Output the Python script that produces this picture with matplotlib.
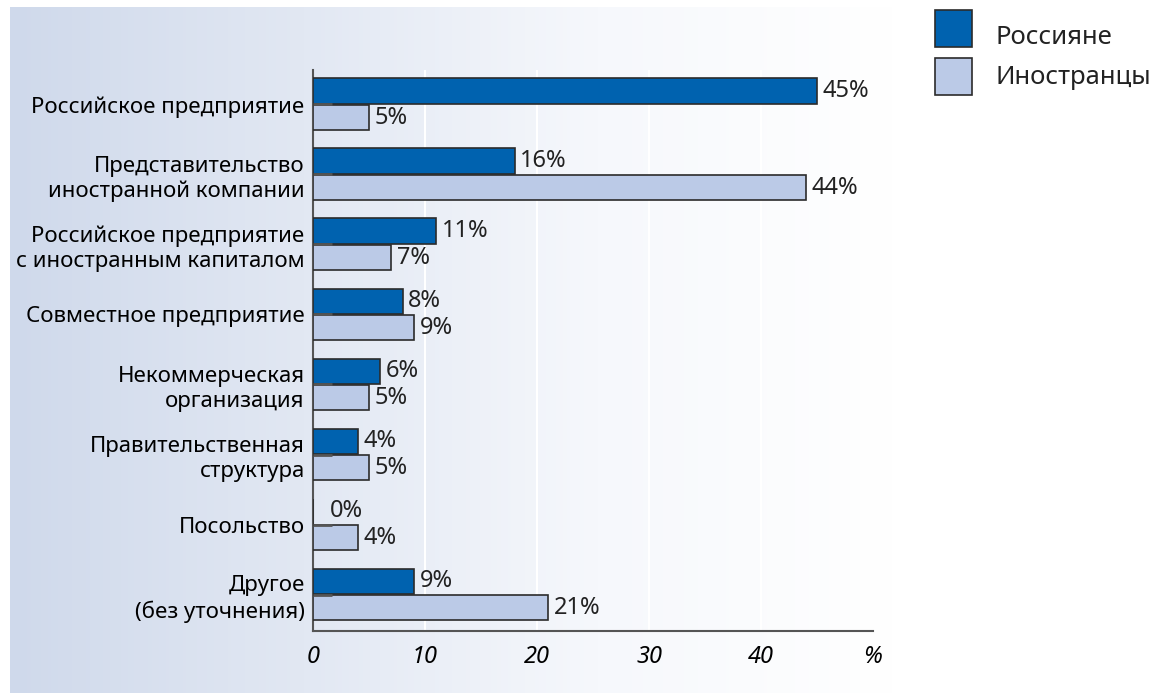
import numpy as np
import matplotlib
matplotlib.use("Agg")
import matplotlib.pyplot as plt
from matplotlib.patches import Rectangle
from matplotlib.colors import LinearSegmentedColormap

plt.rcParams["font.family"] = ["Noto Sans", "DejaVu Sans"]

# Data
categories = [
    "Российское предприятие",
    "Представительство\nиностранной компании",
    "Российское предприятие\nс иностранным капиталом",
    "Совместное предприятие",
    "Некоммерческая\nорганизация",
    "Правительственная\nструктура",
    "Посольство",
    "Другое\n(без уточнения)",
]
russians = [45, 18, 11, 8, 6, 4, 0, 9]          # bar lengths as drawn
russians_labels = ["45%", "16%", "11%", "8%", "6%", "4%", "0%", "9%"]
foreigners = [5, 44, 7, 9, 5, 5, 4, 21]
foreigners_labels = ["5%", "44%", "7%", "9%", "5%", "5%", "4%", "21%"]
series_names = ["Россияне", "Иностранцы"]
xticks = [0, 10, 20, 30, 40, 50]
xtick_labels = ["0", "10", "20", "30", "40", "%"]

DARK = "#0062AF"
LIGHT = "#BBCAE7"
EDGE = "#2b2b2b"
FS_CAT = 16
FS_VAL = 17
FS_LEG = 18.5

W, H = 1156, 693
fig = plt.figure(figsize=(W / 100, H / 100), dpi=100)

# gradient background panel
bg = fig.add_axes([10 / W, 0, (895 - 10) / W, 1 - 7 / H], zorder=-10)
cmap = LinearSegmentedColormap.from_list("bg", ["#CFD9EB", "#E2E8F3", "#F6F8FC", "#FFFFFF"])
bg.imshow(np.linspace(0, 1, 256)[None, :], aspect="auto", cmap=cmap,
          extent=[0, 1, 0, 1])
bg.set_axis_off()

ax = fig.add_axes([313 / W, 1 - 631 / H, (873 - 313) / W, (631 - 70) / H])
ax.patch.set_alpha(0)

y = np.arange(len(categories))
h = 0.36
off = 0.19
ax.barh(y - off, russians, height=h, color=DARK, edgecolor=EDGE, linewidth=1.2, zorder=3)
ax.barh(y + off, foreigners, height=h, color=LIGHT, edgecolor=EDGE, linewidth=1.2, zorder=3)

for yi, v, lab in zip(y, russians, russians_labels):
    ax.text(max(v, 1.0) + 0.5, yi - off, lab, va="center", ha="left", fontsize=FS_VAL, color="#222")
for yi, v, lab in zip(y, foreigners, foreigners_labels):
    ax.text(v + 0.5, yi + off, lab, va="center", ha="left", fontsize=FS_VAL, color="#222")

ax.set_xlim(0, 49.8)
ax.set_ylim(7.52, -0.49)
ax.set_yticks(y)
ax.set_yticklabels(categories, fontsize=FS_CAT, linespacing=1.25)
ax.tick_params(axis="y", direction="in", length=14, width=2, color="#555", pad=6)
ax.yaxis.set_zorder(4)
ax.set_xticks(xticks)
ax.set_xticklabels(xtick_labels, fontsize=FS_VAL, style="italic")
ax.tick_params(axis="x", length=0, pad=10)
for lab in ax.get_yticklabels():
    lab.set_horizontalalignment("right")
    lab.set_multialignment("right")

for gx in [10, 20, 30, 40]:
    ax.axvline(gx, color="white", linewidth=1.5, zorder=1)

for s in ["top", "right"]:
    ax.spines[s].set_visible(False)
for s in ["left", "bottom"]:
    ax.spines[s].set_color("#555")
    ax.spines[s].set_linewidth(1.5)

# legend
leg = [(DARK, 10, 37), (LIGHT, 58, 78)]
for (col, top, ty), name in zip(leg, series_names):
    fig.patches.append(Rectangle((935 / W, 1 - (top + 37) / H), 37 / W, 37 / H,
                                 transform=fig.transFigure, facecolor=col,
                                 edgecolor=EDGE, linewidth=1.2))
    fig.text(995 / W, 1 - ty / H, name, fontsize=FS_LEG, va="center", ha="left", color="#222")

fig.savefig("out.png", dpi=100)
